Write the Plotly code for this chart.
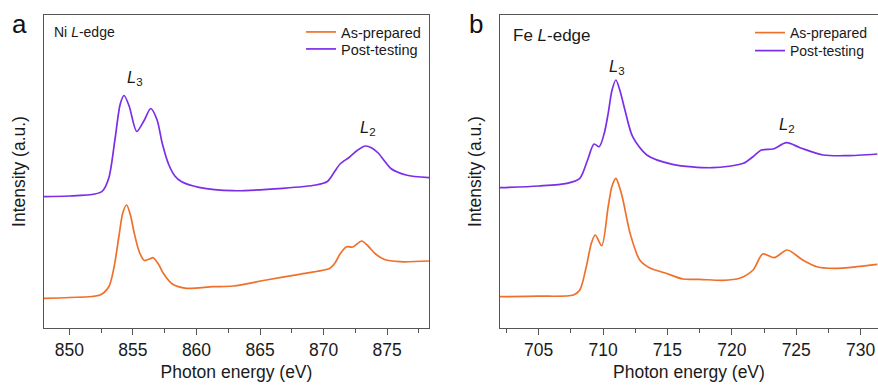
import plotly.graph_objects as go

# ---------------- Panel a: Ni L-edge ----------------
ni_post_E = [848.0, 850.0, 852.0, 852.6, 853.1, 853.6, 854.0, 854.3, 854.7, 855.3, 855.9, 856.4,
             856.9, 857.3, 857.8, 858.3, 858.8, 860.2, 862.9, 866.8, 869.4, 870.3, 870.8,
             871.3, 872.0, 872.7, 873.3, 873.8, 874.3, 874.8, 875.3, 876.5, 878.3]
ni_post_I = [131.3, 132.0, 134.0, 137.0, 150.0, 190.0, 224.0, 232.5, 222.0, 196.5, 208.0, 219.5,
             208.0, 185.0, 164.0, 152.0, 146.5, 140.7, 137.3, 139.7, 143.0, 146.5, 155.0,
             164.0, 170.5, 178.0, 182.0, 180.0, 175.0, 167.0, 159.5, 153.0, 150.3]

ni_as_E = [848.0, 850.0, 852.4, 853.1, 853.5, 853.9, 854.2, 854.5, 854.8, 855.1, 855.5, 855.9,
           856.3, 856.6, 857.0, 857.4, 858.1, 859.2, 861.3, 862.9, 865.5, 868.1, 870.5,
           870.9, 871.3, 871.8, 872.3, 873.0, 873.5, 874.1, 874.8, 876.0, 878.3]
ni_as_I = [29.7, 30.5, 33.0, 41.3, 60.0, 92.0, 115.0, 123.0, 113.0, 95.0, 76.0, 67.5,
           69.0, 70.3, 64.0, 54.5, 44.0, 39.7, 41.3, 42.0, 48.0, 53.7, 59.7,
           65.0, 74.0, 81.3, 81.0, 87.0, 82.0, 74.0, 68.5, 66.3, 67.0]

# ---------------- Panel b: Fe L-edge ----------------
fe_post_E = [702.0, 705.0, 707.2, 708.2, 708.8, 709.3, 709.7, 710.1, 710.4, 710.7, 711.0, 711.3,
             711.7, 712.3, 713.4, 715.4, 718.5, 720.9, 721.65, 722.3, 723.2, 724.25, 725.3,
             727.1, 728.9, 731.3]
fe_post_I = [140.3, 142.0, 144.7, 149.7, 168.0, 184.0, 181.3, 195.0, 214.7, 238.0, 248.0, 238.0,
             218.0, 191.3, 173.0, 163.7, 160.3, 164.7, 171.3, 178.0, 179.0, 185.3, 180.3,
             173.0, 172.3, 174.0]

fe_as_E = [702.0, 705.0, 707.7, 708.2, 708.7, 709.1, 709.4, 709.9, 710.4, 710.7, 711.0, 711.3,
           711.55, 712.1, 712.85, 713.6, 714.9, 716.2, 717.5, 719.3, 720.6, 721.65, 722.4,
           723.3, 724.3, 725.5, 726.6, 727.9, 729.7, 731.3]
fe_as_I = [31.3, 31.8, 33.0, 38.0, 61.3, 85.0, 93.0, 82.3, 121.3, 142.0, 149.7, 140.0,
           128.0, 94.7, 68.0, 60.3, 54.7, 49.0, 48.7, 47.7, 49.7, 58.0, 74.0,
           70.3, 78.0, 68.0, 61.3, 59.7, 61.3, 63.7]

series_names = ["As-prepared", "Post-testing"]
ORANGE = "#F0702A"
PURPLE = "#7B2EE8"
FONT = "Liberation Sans, Arial, sans-serif"
TXT = "#1a1a1a"

W, H = 878, 390

fig = go.Figure()

line_style = dict(width=1.7, shape="spline", smoothing=0.8)
fig.add_trace(go.Scatter(x=ni_as_E, y=ni_as_I, mode="lines", name=series_names[0],
                         line=dict(line_style, color=ORANGE), xaxis="x", yaxis="y", legend="legend"))
fig.add_trace(go.Scatter(x=ni_post_E, y=ni_post_I, mode="lines", name=series_names[1],
                         line=dict(line_style, color=PURPLE), xaxis="x", yaxis="y", legend="legend3"))
fig.add_trace(go.Scatter(x=fe_as_E, y=fe_as_I, mode="lines", name=series_names[0],
                         line=dict(line_style, color=ORANGE), xaxis="x2", yaxis="y2", legend="legend2"))
fig.add_trace(go.Scatter(x=fe_post_E, y=fe_post_I, mode="lines", name=series_names[1],
                         line=dict(line_style, color=PURPLE), xaxis="x2", yaxis="y2", legend="legend4"))

ytop, ybot = 1 - 15 / H, 1 - 328 / H

xcommon = dict(showgrid=False, zeroline=False, showline=True, linecolor="#555555", linewidth=1.3,
               ticks="outside", ticklen=6, tickwidth=1.2, tickcolor="#555555",
               tickfont=dict(family=FONT, size=17.5, color=TXT),
               title=dict(text="Photon energy (eV)", font=dict(family=FONT, size=17.5, color=TXT),
                          standoff=6),
               minor=dict(ticks="outside", ticklen=4, tickcolor="#555555", tickwidth=1.2,
                          dtick=2.5, showgrid=False),
               dtick=5, mirror=True)
ycommon = dict(showgrid=False, zeroline=False, showline=True, linecolor="#555555", linewidth=1.3,
               showticklabels=False, ticks="", range=[0, 313],
               title=dict(text="Intensity (a.u.)", font=dict(family=FONT, size=17.5, color=TXT),
                          standoff=12))


def leg(xpx, ypx, size):
    return dict(x=xpx / W, y=1 - ypx / H, xanchor="left", yanchor="top", bgcolor="rgba(0,0,0,0)",
                font=dict(family=FONT, size=size, color=TXT), tracegroupgap=0, itemwidth=30)


fig.update_layout(
    width=W, height=H, margin=dict(l=0, r=0, t=0, b=0),
    paper_bgcolor="white", plot_bgcolor="white",
    font=dict(family=FONT, color=TXT),
    xaxis=dict(xcommon, domain=[44 / W, 429 / W], range=[848.0, 878.3], tick0=850, anchor="y"),
    yaxis=dict(ycommon, domain=[ybot, ytop], anchor="x", mirror=True),
    xaxis2=dict(xcommon, domain=[500 / W, 1.0], range=[702.0, 731.35], tick0=705, anchor="y2"),
    yaxis2=dict(ycommon, domain=[ybot, ytop], anchor="x2", mirror=False),
    legend=leg(301, 16, 14.5),
    legend3=leg(301, 33, 14.5),
    legend2=leg(750, 17, 14),
    legend4=leg(750, 35, 14),
    showlegend=True,
)

ann = []
# panel letters
ann.append(dict(text="a", x=19 / W, y=1 - 24 / H, xref="paper", yref="paper", showarrow=False,
                font=dict(family=FONT, size=26, color="#111111"), xanchor="center", yanchor="middle"))
ann.append(dict(text="b", x=476 / W, y=1 - 24 / H, xref="paper", yref="paper", showarrow=False,
                font=dict(family=FONT, size=26, color="#111111"), xanchor="center", yanchor="middle"))
# edge labels
ann.append(dict(text="Ni <i>L</i>-edge", x=52 / W, y=1 - 32 / H, xref="paper", yref="paper",
                showarrow=False, xanchor="left", yanchor="middle",
                font=dict(family=FONT, size=14, color=TXT)))
ann.append(dict(text="Fe <i>L</i>-edge", x=511 / W, y=1 - 35 / H, xref="paper", yref="paper",
                showarrow=False, xanchor="left", yanchor="middle",
                font=dict(family=FONT, size=17, color=TXT)))
# peak labels
pk = dict(family=FONT, size=16.5, color=TXT)
ann.append(dict(text="<i>L</i><sub>3</sub>", x=855.2, y=250, xref="x", yref="y", showarrow=False, font=pk))
ann.append(dict(text="<i>L</i><sub>2</sub>", x=873.5, y=200, xref="x", yref="y", showarrow=False, font=pk))
ann.append(dict(text="<i>L</i><sub>3</sub>", x=711.1, y=261, xref="x2", yref="y2", showarrow=False, font=pk))
ann.append(dict(text="<i>L</i><sub>2</sub>", x=724.3, y=203, xref="x2", yref="y2", showarrow=False, font=pk))
fig.update_layout(annotations=ann)

fig.write_html("out.html")
